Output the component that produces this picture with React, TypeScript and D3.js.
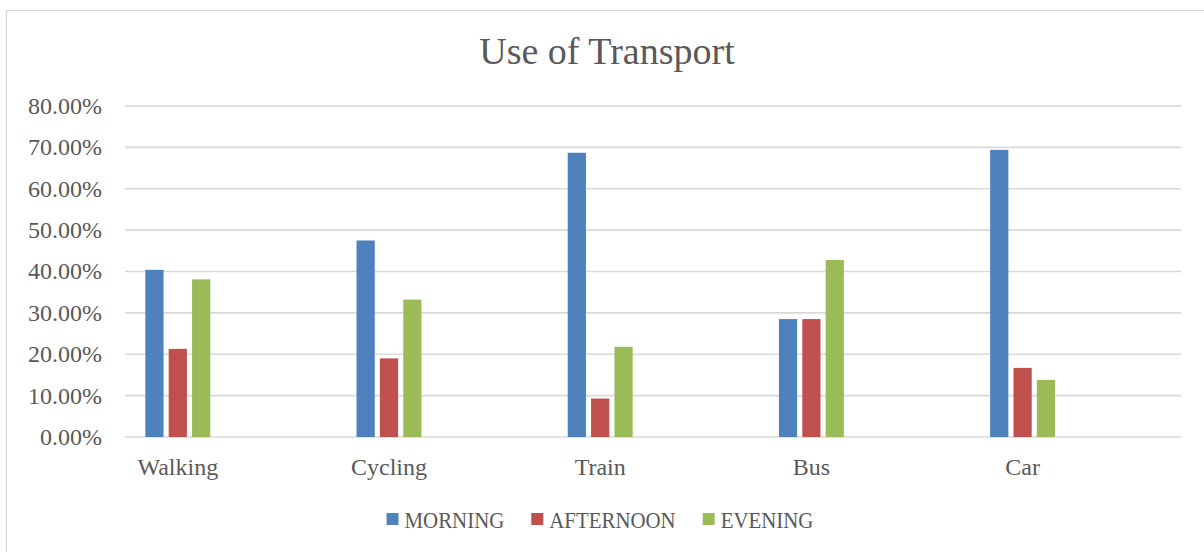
import { useRef, useEffect } from "react";
import * as d3 from "d3";

// chart data
const categories = ["Walking", "Cycling", "Train", "Bus", "Car"];
const seriesNames = ["MORNING", "AFTERNOON", "EVENING"];
const morning = [0.404, 0.475, 0.687, 0.285, 0.694];
const afternoon = [0.213, 0.19, 0.093, 0.285, 0.167];
const evening = [0.381, 0.332, 0.218, 0.428, 0.138];
const yTicks = [0, 0.1, 0.2, 0.3, 0.4, 0.5, 0.6, 0.7, 0.8];
const colours = ["#4F81BD", "#C0504D", "#9BBB59"];

const W = 1204;
const H = 552;
const FONT = "'Liberation Serif', 'DejaVu Serif', serif";
const TEXT = "#595959";

export default function App() {
  const svgRef = useRef<SVGSVGElement>(null);

  useEffect(() => {
    const svg = d3.select(svgRef.current);
    svg.selectAll("*").remove();

    const values = [morning, afternoon, evening];
    const left = 125;
    const right = 1181;
    const top = 106;
    const bottom = 437;

    // outer chart border
    svg
      .append("rect")
      .attr("x", 6.5)
      .attr("y", 10.5)
      .attr("width", 1210)
      .attr("height", 560)
      .attr("fill", "white")
      .attr("stroke", "#d9d9d9")
      .attr("stroke-width", 1.3);

    svg
      .append("text")
      .attr("x", 607)
      .attr("y", 64)
      .attr("text-anchor", "middle")
      .attr("font-family", FONT)
      .attr("font-size", 38)
      .attr("fill", TEXT)
      .text("Use of Transport");

    const y = d3.scaleLinear().domain([0, 0.8]).range([bottom, top]);
    const x = d3.scaleBand().domain(categories).range([left, right]);
    const half = x.bandwidth() / 2;
    const inner = d3
      .scaleBand()
      .domain(seriesNames)
      .range([0, half])
      .paddingInner(0.22)
      .paddingOuter(0.87);

    // gridlines
    svg
      .append("g")
      .selectAll("line")
      .data(yTicks)
      .join("line")
      .attr("x1", left)
      .attr("x2", right)
      .attr("y1", (d) => y(d))
      .attr("y2", (d) => y(d))
      .attr("stroke", "#d9d9d9")
      .attr("stroke-width", 1.6);

    // y labels
    svg
      .append("g")
      .selectAll("text")
      .data(yTicks)
      .join("text")
      .attr("x", 102)
      .attr("y", (d) => y(d))
      .attr("dy", "0.33em")
      .attr("text-anchor", "end")
      .attr("font-family", FONT)
      .attr("font-size", 24)
      .attr("fill", TEXT)
      .text((d) => d3.format(".2%")(d));

    // bars
    seriesNames.forEach((name, s) => {
      svg
        .append("g")
        .selectAll("rect")
        .data(values[s])
        .join("rect")
        .attr("x", (d, i) => x(categories[i])! + inner(name)!)
        .attr("y", (d) => y(d))
        .attr("width", inner.bandwidth())
        .attr("height", (d) => y(0) - y(d))
        .attr("fill", colours[s]);
    });

    // x labels
    svg
      .append("g")
      .selectAll("text")
      .data(categories)
      .join("text")
      .attr("x", (d) => x(d)! + half / 2)
      .attr("y", 475)
      .attr("text-anchor", "middle")
      .attr("font-family", FONT)
      .attr("font-size", 24)
      .attr("fill", TEXT)
      .text((d) => d);

    // legend (labels squeezed a bit, like the narrow original font)
    const squeeze = 0.87;
    const legend = svg.append("g");
    const items = legend
      .selectAll("g")
      .data(seriesNames)
      .join("g");
    items
      .append("rect")
      .attr("width", 12)
      .attr("height", 12)
      .attr("y", 513)
      .attr("fill", (d, i) => colours[i]);
    const labels = items
      .append("text")
      .attr("transform", `translate(18,528) scale(${squeeze},1)`)
      .attr("font-family", FONT)
      .attr("font-size", 24)
      .attr("fill", TEXT)
      .text((d) => d);
    const widths: number[] = [];
    labels.each(function () {
      widths.push((this as SVGTextElement).getComputedTextLength() * squeeze);
    });
    const gap = 27;
    const total = d3.sum(widths.map((w) => w + 18)) + gap * (widths.length - 1);
    let cx = 600 - total / 2;
    items.attr("transform", (d, i) => {
      const t = `translate(${cx},0)`;
      cx += widths[i] + 18 + gap;
      return t;
    });
  }, []);

  return (
    <svg
      ref={svgRef}
      width={W}
      height={H}
      style={{ position: "absolute", left: 0, top: 0, background: "white" }}
    ></svg>
  );
}
